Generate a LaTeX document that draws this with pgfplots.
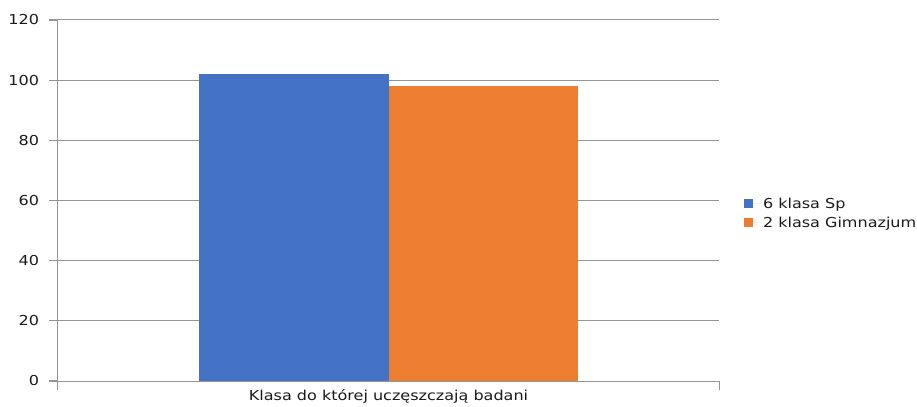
\documentclass[border=0pt]{standalone}
\usepackage{pgfplots}
\pgfplotsset{compat=1.18}
\usepackage{fontspec}
\setmainfont[FakeStretch=1.17]{DejaVu Sans}
\definecolor{cblue}{HTML}{4472C4}
\definecolor{corange}{HTML}{ED7D31}
\definecolor{cgrid}{HTML}{959595}
\definecolor{ctext}{HTML}{1A1A1A}
\begin{document}
\begin{tikzpicture}
\useasboundingbox (-58bp,-26bp) rectangle (859bp,381bp);
\begin{axis}[
  scale only axis,
  width=661bp, height=361bp,
  at={(0,0)}, anchor=south west,
  ymin=0, ymax=120, ytick={0,20,...,120},
  xmin=-1, xmax=1,
  xtick={-1,1}, xticklabels={},
  extra x ticks={0}, extra x tick labels={Klasa do której uczęszczają badani},
  extra x tick style={major tick length=0pt, grid=none},
  axis x line*=bottom, axis y line*=left,
  axis line style={cgrid, line width=1bp},
  ymajorgrids, grid style={cgrid, line width=1bp},
  tick align=outside,
  ymajorticks=true,
  tick style={cgrid, line width=1bp},
  ytick style={draw=cgrid, line width=1.1bp},
  major tick length=8.5bp,
  ybar=0pt, bar width=189bp,
  ticklabel style={font=\fontsize{13.7bp}{16bp}\selectfont, text=ctext},
  yticklabel style={xshift=-7bp},
  xticklabel style={yshift=-5bp},
  /pgf/number format/assume math mode=true,
  legend style={at={(1.033,0.465)}, anchor=west, draw=none, fill=none,
    font=\fontsize{13.7bp}{16bp}\selectfont, text=ctext, row sep=3bp,
    legend cell align=left},
  legend image code/.code={\fill[#1] (0bp,-4.5bp) rectangle (9bp,4.5bp); \path (0bp,0bp) -- (17bp,0bp);},
]
\addplot[fill=cblue, draw=none] coordinates {(0,102)};
\addplot[fill=corange, draw=none] coordinates {(0,98)};
\legend{6 klasa Sp, 2 klasa Gimnazjum}
\end{axis}
\end{tikzpicture}
\end{document}
